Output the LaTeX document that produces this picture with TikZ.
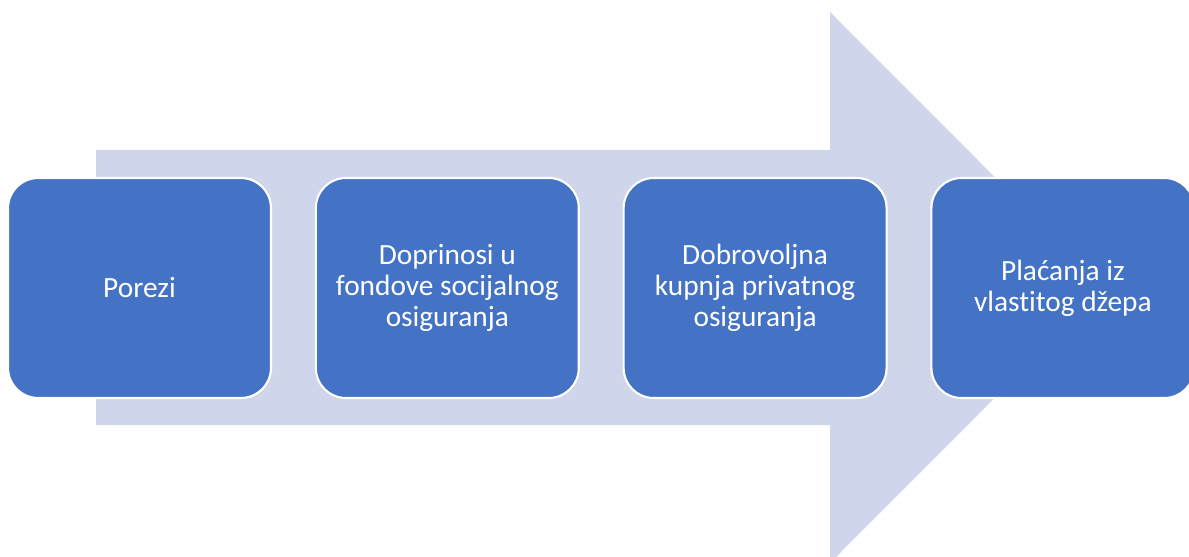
\documentclass[tikz,border=0pt]{standalone}
\usepackage{fontspec}
\setmainfont{Carlito}[Ligatures=NoCommon]
\usetikzlibrary{positioning}
\definecolor{boxblue}{HTML}{4472C4}
\definecolor{arrowfill}{HTML}{CFD5EA}

\begin{document}
\begin{tikzpicture}[x=0.02cm,y=-0.02cm,
    srcbox/.style={draw=white,line width=1.2pt,fill=boxblue,rounded corners=0.6cm,
      minimum width=5.26cm,minimum height=4.4cm,text=white,align=center,
      font=\fontsize{16.7}{17.7}\selectfont,inner sep=0pt}]
  \useasboundingbox (0,0) rectangle (1189,557);

  % big arrow behind
  \fill[arrowfill] (96,150) -- (830,150) -- (830,12) -- (1105,287.5)
    -- (830,563) -- (830,425) -- (96,425) -- cycle;

  % boxes
  \node[srcbox] (porezi) at (139.5,288) {Porezi};
  \node[srcbox,right=0.855cm of porezi] (doprinosi) {Doprinosi u\\fondove socijalnog\\osiguranja};
  \node[srcbox,right=0.855cm of doprinosi] (dobrovoljna) {Dobrovoljna\\kupnja privatnog\\osiguranja};
  \node[srcbox,right=0.855cm of dobrovoljna] (placanja) {Plaćanja iz\\vlastitog džepa};
\end{tikzpicture}
\end{document}
